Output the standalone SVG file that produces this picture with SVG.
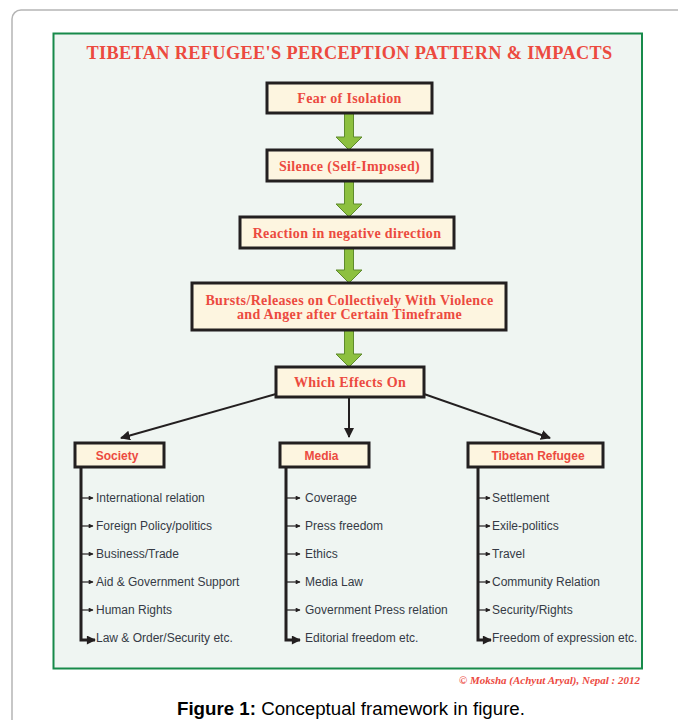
<svg xmlns="http://www.w3.org/2000/svg" width="678" height="720" viewBox="0 0 678 720">
<style>
.box{fill:#fdf5e0;stroke:#231f20;stroke-width:3}
.bt{font-family:"Liberation Serif",serif;font-weight:bold;font-size:14px;letter-spacing:0.35px;fill:#ec4a3f;text-anchor:middle}
.ct{font-family:"Liberation Sans",Arial,sans-serif;font-weight:bold;font-size:12px;fill:#ec4a3f;text-anchor:middle}
.it{font-family:"Liberation Sans",Arial,sans-serif;font-size:12px;fill:#353a45}
.ga{fill:#8dc03f;stroke:#5e8a2c;stroke-width:1}
.bl{stroke:#231f20;stroke-width:2;fill:none}
.vl{stroke:#231f20;stroke-width:3;fill:none}
.sm{stroke:#231f20;stroke-width:1.2;fill:none}
</style>
<defs>
<marker id="ah" viewBox="0 0 10 10" refX="9" refY="5" markerWidth="5" markerHeight="5" orient="auto" markerUnits="strokeWidth"><path d="M0,0 L10,5 L0,10 z" fill="#231f20"/></marker>
<marker id="sa" viewBox="0 0 10 10" refX="9" refY="5" markerWidth="5" markerHeight="4" orient="auto" markerUnits="strokeWidth"><path d="M0,0 L10,5 L0,10 z" fill="#231f20"/></marker>
<marker id="la" viewBox="0 0 10 10" refX="9" refY="5" markerWidth="4" markerHeight="3" orient="auto" markerUnits="strokeWidth"><path d="M0,0 L10,5 L0,10 z" fill="#231f20"/></marker>
</defs>
<rect x="0" y="0" width="678" height="720" fill="#ffffff"/>
<rect x="12" y="10" width="700" height="740" rx="9" fill="#ffffff" stroke="#b5b5b5" stroke-width="1.5"/>
<rect x="53.5" y="33.5" width="588.5" height="635" fill="#eff5f2" stroke="#178a4a" stroke-width="2"/>
<text x="349.5" y="59" font-family="'Liberation Serif',serif" font-weight="bold" font-size="18.3" letter-spacing="0.35" fill="#ec4a3f" text-anchor="middle">TIBETAN REFUGEE'S PERCEPTION PATTERN &amp; IMPACTS</text>

<g id="connectors">
<path class="ga" d="M344.5,113 h9 v24 h8.5 l-13,13 l-13,-13 h8.5 z"/>
<path class="ga" d="M344.5,181 h9 v23 h8.5 l-13,13 l-13,-13 h8.5 z"/>
<path class="ga" d="M344.5,248 h9 v22 h8.5 l-13,13 l-13,-13 h8.5 z"/>
<path class="ga" d="M344.5,330 h9 v24 h8.5 l-13,13 l-13,-13 h8.5 z"/>
<line class="bl" x1="276" y1="394" x2="121" y2="438" marker-end="url(#ah)"/>
<line class="bl" x1="349" y1="397" x2="349" y2="437" marker-end="url(#ah)"/>
<line class="bl" x1="424" y1="394" x2="550" y2="438" marker-end="url(#ah)"/>
<polyline class="vl" points="81,467 81,640 95,640" marker-end="url(#la)"/>
<polyline class="vl" points="286,467 286,640 300,640" marker-end="url(#la)"/>
<polyline class="vl" points="478,467 478,640 491,640" marker-end="url(#la)"/>
<g class="sm">
<line x1="81" y1="498" x2="93" y2="498" marker-end="url(#sa)"/>
<line x1="81" y1="526" x2="93" y2="526" marker-end="url(#sa)"/>
<line x1="81" y1="554" x2="93" y2="554" marker-end="url(#sa)"/>
<line x1="81" y1="582" x2="93" y2="582" marker-end="url(#sa)"/>
<line x1="81" y1="610" x2="93" y2="610" marker-end="url(#sa)"/>
<line x1="286" y1="498" x2="300" y2="498" marker-end="url(#sa)"/>
<line x1="286" y1="526" x2="300" y2="526" marker-end="url(#sa)"/>
<line x1="286" y1="554" x2="300" y2="554" marker-end="url(#sa)"/>
<line x1="286" y1="582" x2="300" y2="582" marker-end="url(#sa)"/>
<line x1="286" y1="610" x2="300" y2="610" marker-end="url(#sa)"/>
<line x1="478" y1="498" x2="490" y2="498" marker-end="url(#sa)"/>
<line x1="478" y1="526" x2="490" y2="526" marker-end="url(#sa)"/>
<line x1="478" y1="554" x2="490" y2="554" marker-end="url(#sa)"/>
<line x1="478" y1="582" x2="490" y2="582" marker-end="url(#sa)"/>
<line x1="478" y1="610" x2="490" y2="610" marker-end="url(#sa)"/>
</g>
</g>

<g id="fear"><rect class="box" x="267" y="83" width="165" height="30"/><text class="bt" x="349.5" y="103">Fear of Isolation</text></g>
<g id="silence"><rect class="box" x="267" y="150" width="165" height="31"/><text class="bt" x="349.5" y="170.5">Silence (Self-Imposed)</text></g>
<g id="reaction"><rect class="box" x="240" y="217" width="214" height="31"/><text class="bt" x="347" y="238">Reaction in negative direction</text></g>
<g id="bursts"><rect class="box" x="192" y="283" width="314" height="47"/><text class="bt" x="349.5" y="305">Bursts/Releases on Collectively With Violence</text><text class="bt" x="349.5" y="319">and Anger after Certain Timeframe</text></g>
<g id="effects"><rect class="box" x="276" y="367" width="148" height="30"/><text class="bt" x="350" y="387">Which Effects On</text></g>

<g id="society"><rect class="box" x="75" y="443" width="89" height="24"/><text class="ct" x="117" y="459.5">Society</text>
<text class="it" x="96" y="502">International relation</text>
<text class="it" x="96" y="530">Foreign Policy/politics</text>
<text class="it" x="96" y="558">Business/Trade</text>
<text class="it" x="96" y="586">Aid &amp; Government Support</text>
<text class="it" x="96" y="614">Human Rights</text>
<text class="it" x="96" y="642">Law &amp; Order/Security etc.</text>
</g>
<g id="media"><rect class="box" x="280" y="443" width="89" height="24"/><text class="ct" x="321.5" y="459.5">Media</text>
<text class="it" x="305" y="502">Coverage</text>
<text class="it" x="305" y="530">Press freedom</text>
<text class="it" x="305" y="558">Ethics</text>
<text class="it" x="305" y="586">Media Law</text>
<text class="it" x="305" y="614">Government Press relation</text>
<text class="it" x="305" y="642">Editorial freedom etc.</text>
</g>
<g id="tibetan"><rect class="box" x="468" y="443" width="135" height="24"/><text class="ct" x="538" y="459.5">Tibetan Refugee</text>
<text class="it" x="492" y="502">Settlement</text>
<text class="it" x="492" y="530">Exile-politics</text>
<text class="it" x="492" y="558">Travel</text>
<text class="it" x="492" y="586">Community Relation</text>
<text class="it" x="492" y="614">Security/Rights</text>
<text class="it" x="492" y="642">Freedom of expression etc.</text>
</g>

<text x="640" y="684" font-family="'Liberation Serif',serif" font-weight="bold" font-style="italic" font-size="11" fill="#ec4a3f" text-anchor="end">© Moksha (Achyut Aryal), Nepal : 2012</text>
<text x="351" y="715" font-family="'Liberation Sans',Arial,sans-serif" font-size="18.7" fill="#000" text-anchor="middle"><tspan font-weight="bold">Figure 1:</tspan> Conceptual framework in figure.</text>
</svg>
